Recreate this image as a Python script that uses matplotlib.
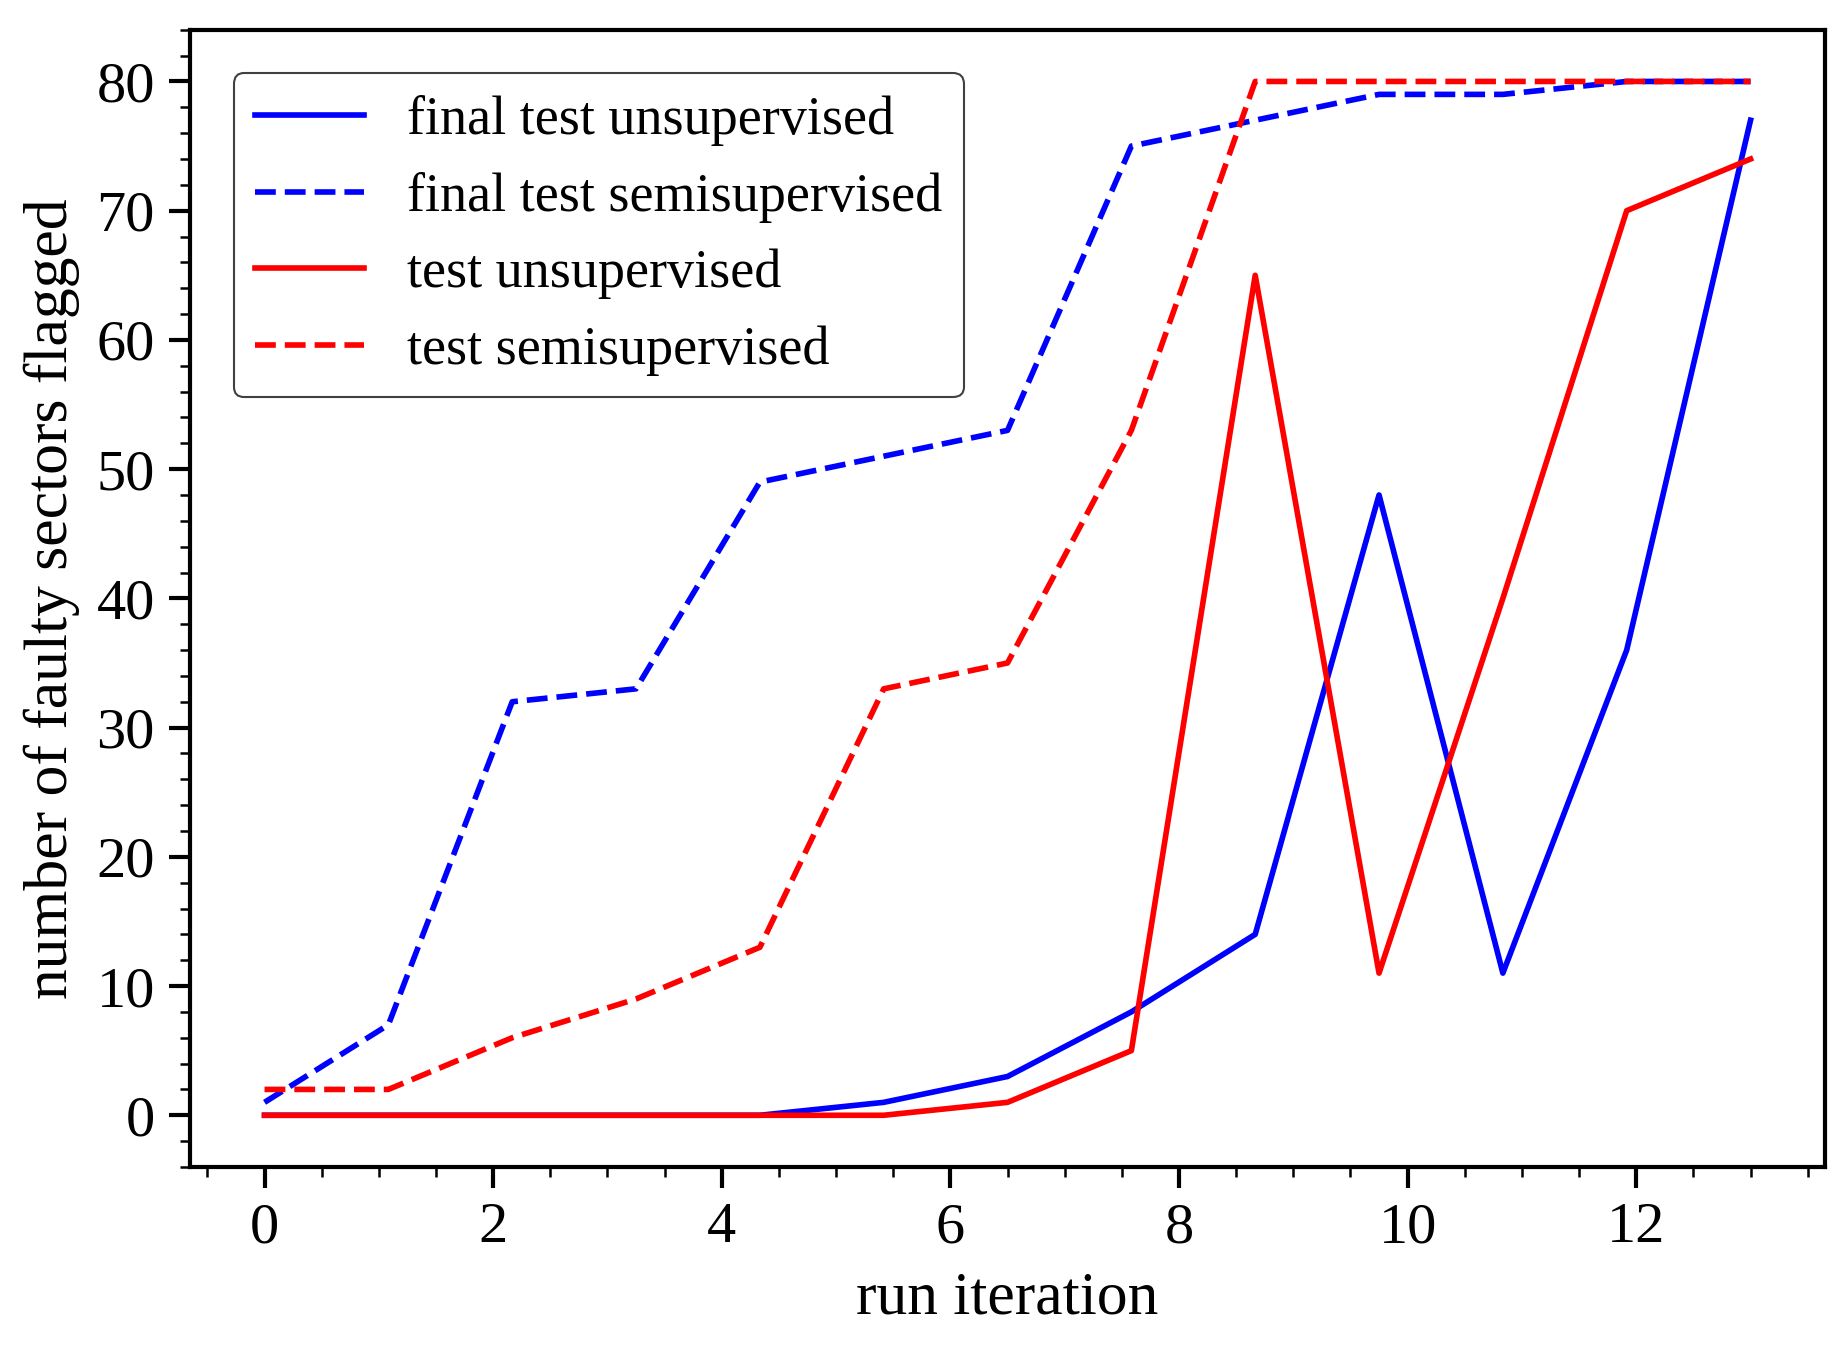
import numpy as np
import matplotlib
matplotlib.use("Agg")
import matplotlib.pyplot as plt
from matplotlib.ticker import MultipleLocator

plt.rcParams['font.family'] = ['Liberation Serif', 'DejaVu Serif']
plt.rcParams['font.size'] = 14

# run iterations (13 runs spread over 0..13)
run_iteration = np.linspace(0, 13, 13)

final_test_unsupervised = [0, 0, 0, 0, 0, 1, 3, 8, 14, 48, 11, 36, 77]
final_test_semisupervised = [1, 7, 32, 33, 49, 51, 53, 75, 77, 79, 79, 80, 80]
test_unsupervised = [0, 0, 0, 0, 0, 0, 1, 5, 65, 11, 40, 70, 74]
test_semisupervised = [2, 2, 6, 9, 13, 33, 35, 53, 80, 80, 80, 80, 80]

fig = plt.figure(figsize=(1847 / 300, 1353 / 300), dpi=300)
ax = fig.add_axes([0.103, 0.1375, 0.885, 0.8405])

lw = 1.35
ax.plot(run_iteration, final_test_unsupervised, color="blue", lw=lw, label="final test unsupervised")
ax.plot(run_iteration, final_test_semisupervised, color="blue", lw=lw, ls="--", label="final test semisupervised")
ax.plot(run_iteration, test_unsupervised, color="red", lw=lw, label="test unsupervised")
ax.plot(run_iteration, test_semisupervised, color="red", lw=lw, ls="--", label="test semisupervised")

ax.set_xlabel("run iteration", fontsize=14.8)
ax.set_ylabel("number of faulty sectors flagged", fontsize=14.8)

ax.xaxis.set_major_locator(MultipleLocator(2))
ax.xaxis.set_minor_locator(MultipleLocator(0.5))
ax.yaxis.set_major_locator(MultipleLocator(10))
ax.yaxis.set_minor_locator(MultipleLocator(2))
ax.tick_params(which="both", top=False, right=False, direction="out")
ax.tick_params(which="major", length=5, width=1)
ax.tick_params(which="minor", length=2.5, width=0.6)
for s in ax.spines.values():
    s.set_linewidth(1.0)

leg = ax.legend(loc="upper left", frameon=True, fancybox=True, framealpha=1,
                fontsize=13, borderaxespad=0.8, handlelength=2.0,
                handletextpad=0.8, borderpad=0.4, labelspacing=0.48)
leg.get_frame().set_edgecolor("0.25")
leg.get_frame().set_linewidth(0.5)

fig.savefig("out.png", dpi=300)
